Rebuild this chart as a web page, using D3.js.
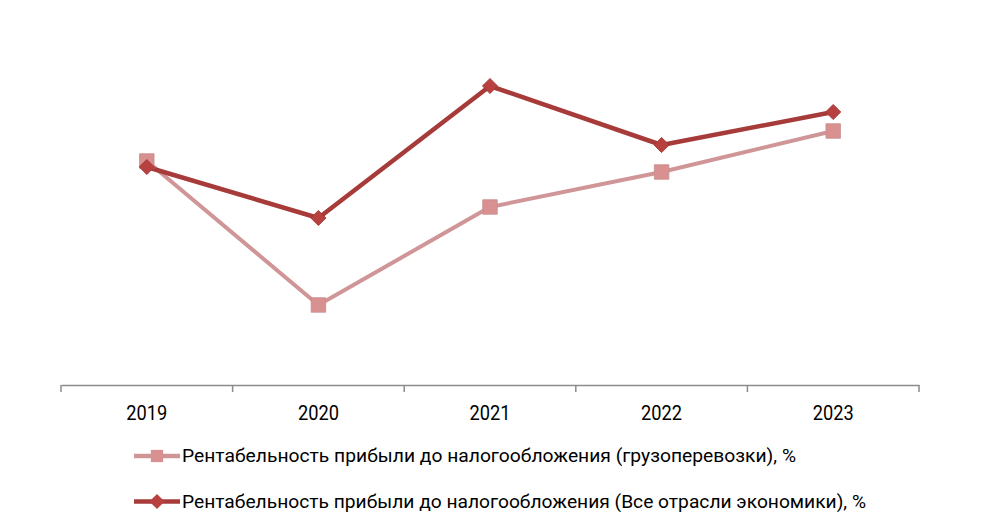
<!DOCTYPE html>
<html><head><meta charset="utf-8">
<script src="https://cdn.jsdelivr.net/npm/d3@7"></script>
<style>body{margin:0;background:#fff}svg{display:block}</style>
</head><body>
<svg id="c" width="1000" height="531"></svg>
<script>
const years = ["2019","2020","2021","2022","2023"];
const cargo = [11.2, 4.0, 8.9, 10.65, 12.7];
const allEcon = [10.9, 8.35, 14.95, 12.0, 13.65];
const seriesNames = ["Рентабельность прибыли до налогообложения (грузоперевозки), %",
                     "Рентабельность прибыли до налогообложения (Все отрасли экономики), %"];

const svg = d3.select("#c");
const font = "Roboto, 'Open Sans', sans-serif";
const x = d3.scaleBand().domain(years).range([61, 919]);
const y = d3.scaleLinear().domain([0, 18]).range([385, 25]);
const cx = d => x(d) + x.bandwidth()/2;

// axis
const ax = svg.append("g").attr("transform","translate(0,385)")
  .call(d3.axisBottom(x).tickSize(0).tickFormat(""));
ax.select(".domain").attr("stroke","#8c8c8c").attr("stroke-width",1.5);
const ticks = years.map(d=>x(d)).concat([x.range()[1]]);
svg.append("g").selectAll("line").data(ticks).join("line")
  .attr("x1",d=>d).attr("x2",d=>d).attr("y1",385).attr("y2",392)
  .attr("stroke","#8c8c8c").attr("stroke-width",1.5);
svg.append("g").selectAll("text").data(years).join("text")
  .attr("x",d=>cx(d)).attr("y",420).attr("text-anchor","middle")
  .attr("font-family",font).attr("font-size",20.5).attr("fill","#000")
  .attr("textLength",41).attr("lengthAdjust","spacingAndGlyphs")
  .text(d=>d);

const line = d3.line().x((d,i)=>cx(years[i])).y(d=>y(d));
const pinkLine = "#d09597", pinkMark = "#d89090";
const darkLine = "#a63b3a", darkMark = "#b8413f";

svg.append("path").datum(cargo).attr("d",line).attr("fill","none")
  .attr("stroke",pinkLine).attr("stroke-width",4).attr("stroke-linejoin","round");
svg.append("path").datum(allEcon).attr("d",line).attr("fill","none")
  .attr("stroke",darkLine).attr("stroke-width",4.5).attr("stroke-linejoin","round");

const sq = d3.symbol().type(d3.symbolSquare).size(210);
const dm = d3.symbol().type(d3.symbolSquare).size(115);
svg.append("g").selectAll("path").data(cargo).join("path")
  .attr("d",sq).attr("transform",(d,i)=>`translate(${cx(years[i])},${y(d)})`)
  .attr("fill",pinkMark).attr("stroke","#c98a8a").attr("stroke-width",0.8);
svg.append("g").selectAll("path").data(allEcon).join("path")
  .attr("d",dm).attr("transform",(d,i)=>`translate(${cx(years[i])},${y(d)}) rotate(45)`)
  .attr("fill",darkMark).attr("stroke","#9e3634").attr("stroke-width",0.8);

// legend
const sqL = d3.symbol().type(d3.symbolSquare).size(150);
const leg = [{y:456, c:pinkLine, m:pinkMark, s:sqL, r:0, w:614},{y:501.5, c:darkLine, m:darkMark, s:dm, r:45, w:684}];
leg.forEach((l,i)=>{
  svg.append("line").attr("x1",134).attr("x2",180).attr("y1",l.y).attr("y2",l.y)
    .attr("stroke",l.c).attr("stroke-width",4.5);
  svg.append("path").attr("d",l.s).attr("transform",`translate(157,${l.y}) rotate(${l.r})`).attr("fill",l.m);
  svg.append("text").attr("x",182).attr("y",l.y+6).attr("font-family",font)
    .attr("font-size",17.5).attr("fill","#000")
    .attr("textLength",l.w).attr("lengthAdjust","spacingAndGlyphs")
    .text(seriesNames[i]);
});
</script>
</body></html>
